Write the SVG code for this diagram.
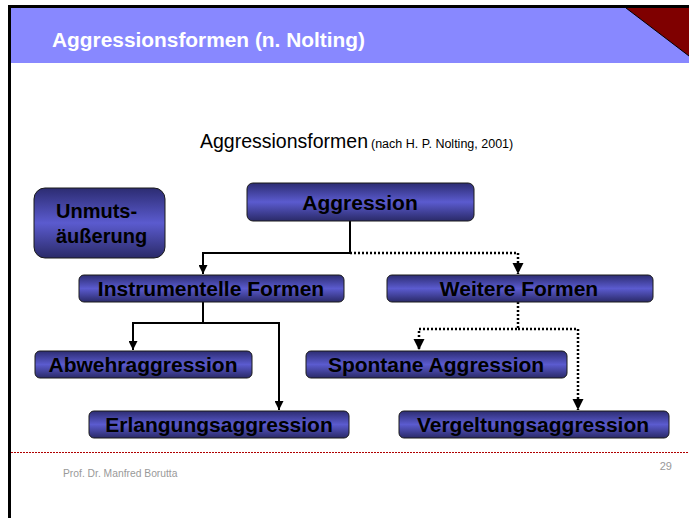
<svg xmlns="http://www.w3.org/2000/svg" width="689" height="518" viewBox="0 0 689 518">
<defs>
<linearGradient id="g" x1="0" y1="0" x2="0" y2="1">
<stop offset="0" stop-color="#2c2c72"/>
<stop offset="0.5" stop-color="#5b5bcf"/>
<stop offset="1" stop-color="#2a2a68"/>
</linearGradient>
<marker id="ah" viewBox="0 0 10 10" refX="10" refY="5" markerWidth="4.5" markerHeight="4.5" orient="auto" markerUnits="strokeWidth">
<path d="M0,0 L10,5 L0,10 z" fill="#000"/>
</marker>
</defs>
<style>
.box{fill:url(#g);stroke:#1a1a1a;stroke-width:1}
.nt{font-family:"Liberation Sans",Arial,sans-serif;font-weight:bold;font-size:21px;fill:#000;text-anchor:middle}
.solid{fill:none;stroke:#000;stroke-width:2}
.dot{fill:none;stroke:#000;stroke-width:2.5;stroke-dasharray:2 2}
</style>
<rect x="0" y="0" width="689" height="518" fill="#fff"/>
<rect x="10" y="8" width="679" height="55" fill="#8888ff"/>
<polygon points="626,8 689,8 689,56" fill="#7f0000"/>
<line x1="626" y1="8" x2="689" y2="56" stroke="#000" stroke-width="1"/>
<rect x="8" y="5" width="681" height="3" fill="#000"/>
<rect x="8" y="5" width="3" height="513" fill="#000"/>
<text x="52" y="47" font-family="'Liberation Sans',Arial,sans-serif" font-weight="bold" font-size="20" fill="#fff" textLength="313" lengthAdjust="spacingAndGlyphs">Aggressionsformen (n. Nolting)</text>
<text x="200" y="148" font-family="'Liberation Sans',Arial,sans-serif" font-size="19.5" fill="#000">Aggressionsformen</text>
<text x="371" y="148" font-family="'Liberation Sans',Arial,sans-serif" font-size="12.5" fill="#000">(nach H. P. Nolting, 2001)</text>

<g id="connectors">
<polyline class="solid" points="350,221 350,253 203,253 203,274" marker-end="url(#ah)"/>
<polyline class="dot" points="350,253 518,253 518,274" marker-end="url(#ah)"/>
<polyline class="solid" points="203,302 203,323 133,323 133,350" marker-end="url(#ah)"/>
<polyline class="solid" points="203,323 279,323 279,410" marker-end="url(#ah)"/>
<polyline class="dot" points="518,302 518,329 419,329 419,350" marker-end="url(#ah)"/>
<polyline class="dot" points="518,329 578,329 578,410" marker-end="url(#ah)"/>
</g>

<g id="unmut">
<rect class="box" x="34" y="188" width="131" height="70" rx="11"/>
<text x="56" y="218" class="nt" style="text-anchor:start;font-size:20px">Unmuts-</text>
<text x="56" y="243" class="nt" style="text-anchor:start;font-size:20px">äußerung</text>
</g>
<g id="aggression">
<rect class="box" x="247" y="183" width="227" height="38" rx="6"/>
<text x="360" y="210" class="nt">Aggression</text>
</g>
<g id="instrumentell">
<rect class="box" x="79" y="275" width="265" height="27" rx="5"/>
<text x="211" y="296" class="nt">Instrumentelle Formen</text>
</g>
<g id="weitere">
<rect class="box" x="387" y="275" width="266" height="27" rx="5"/>
<text x="519" y="296" class="nt">Weitere Formen</text>
</g>
<g id="abwehr">
<rect class="box" x="35" y="351" width="217" height="27" rx="5"/>
<text x="143" y="372" class="nt">Abwehraggression</text>
</g>
<g id="erlangung">
<rect class="box" x="89" y="411" width="260" height="27" rx="5"/>
<text x="219" y="432" class="nt">Erlangungsaggression</text>
</g>
<g id="spontan">
<rect class="box" x="306" y="351" width="261" height="27" rx="5"/>
<text x="436" y="372" class="nt">Spontane Aggression</text>
</g>
<g id="vergeltung">
<rect class="box" x="399" y="411" width="270" height="27" rx="5"/>
<text x="533" y="432" class="nt">Vergeltungsaggression</text>
</g>

<line x1="11" y1="452.5" x2="689" y2="452.5" stroke="#b00000" stroke-width="1" stroke-dasharray="2 1"/>
<text x="63" y="477" font-family="'Liberation Sans',Arial,sans-serif" font-size="10.3" fill="#999">Prof. Dr. Manfred Borutta</text>
<text x="672" y="470" text-anchor="end" font-family="'Liberation Sans',Arial,sans-serif" font-size="11" fill="#999">29</text>
</svg>
